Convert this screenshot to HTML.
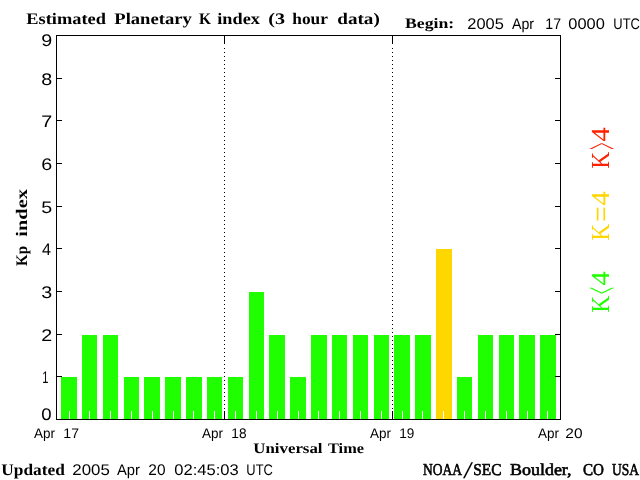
<!DOCTYPE html>
<html><head><meta charset="utf-8"><title>Estimated Planetary K index</title>
<style>
html,body{margin:0;padding:0;background:#fff;overflow:hidden}
svg{display:block}
text{text-rendering:geometricPrecision}
.s{font-family:"Liberation Sans",sans-serif;fill:#000}
.b{font-family:"Liberation Serif",serif;font-weight:bold;fill:#000}
.m{font-family:"Liberation Serif",serif;fill:#000;stroke:#000;stroke-width:0.6px}
.l{font-family:"Liberation Serif",serif}
</style></head><body>
<svg width="640" height="480" viewBox="0 0 640 480">
<rect width="640" height="480" fill="#fff"/>
<g shape-rendering="crispEdges">
<rect x="61" y="377" width="16" height="42" fill="#20ff00"/>
<rect x="69" y="411" width="1" height="8" fill="#fff"/>
<rect x="82" y="335" width="15" height="84" fill="#20ff00"/>
<rect x="89" y="411" width="1" height="8" fill="#fff"/>
<rect x="103" y="335" width="15" height="84" fill="#20ff00"/>
<rect x="110" y="411" width="1" height="8" fill="#fff"/>
<rect x="124" y="377" width="15" height="42" fill="#20ff00"/>
<rect x="131" y="411" width="1" height="8" fill="#fff"/>
<rect x="144" y="377" width="16" height="42" fill="#20ff00"/>
<rect x="152" y="411" width="1" height="8" fill="#fff"/>
<rect x="165" y="377" width="16" height="42" fill="#20ff00"/>
<rect x="173" y="411" width="1" height="8" fill="#fff"/>
<rect x="186" y="377" width="16" height="42" fill="#20ff00"/>
<rect x="193" y="411" width="1" height="8" fill="#fff"/>
<rect x="207" y="377" width="15" height="42" fill="#20ff00"/>
<rect x="214" y="411" width="1" height="8" fill="#fff"/>
<rect x="228" y="377" width="15" height="42" fill="#20ff00"/>
<rect x="235" y="411" width="1" height="8" fill="#fff"/>
<rect x="249" y="292" width="15" height="127" fill="#20ff00"/>
<rect x="256" y="411" width="1" height="8" fill="#fff"/>
<rect x="269" y="335" width="16" height="84" fill="#20ff00"/>
<rect x="277" y="411" width="1" height="8" fill="#fff"/>
<rect x="290" y="377" width="16" height="42" fill="#20ff00"/>
<rect x="298" y="411" width="1" height="8" fill="#fff"/>
<rect x="311" y="335" width="16" height="84" fill="#20ff00"/>
<rect x="318" y="411" width="1" height="8" fill="#fff"/>
<rect x="332" y="335" width="15" height="84" fill="#20ff00"/>
<rect x="339" y="411" width="1" height="8" fill="#fff"/>
<rect x="353" y="335" width="15" height="84" fill="#20ff00"/>
<rect x="360" y="411" width="1" height="8" fill="#fff"/>
<rect x="374" y="335" width="15" height="84" fill="#20ff00"/>
<rect x="381" y="411" width="1" height="8" fill="#fff"/>
<rect x="394" y="335" width="16" height="84" fill="#20ff00"/>
<rect x="402" y="411" width="1" height="8" fill="#fff"/>
<rect x="415" y="335" width="16" height="84" fill="#20ff00"/>
<rect x="422" y="411" width="1" height="8" fill="#fff"/>
<rect x="436" y="249" width="16" height="170" fill="#ffd700"/>
<rect x="443" y="411" width="1" height="8" fill="#fff"/>
<rect x="457" y="377" width="15" height="42" fill="#20ff00"/>
<rect x="464" y="411" width="1" height="8" fill="#fff"/>
<rect x="478" y="335" width="15" height="84" fill="#20ff00"/>
<rect x="485" y="411" width="1" height="8" fill="#fff"/>
<rect x="499" y="335" width="15" height="84" fill="#20ff00"/>
<rect x="506" y="411" width="1" height="8" fill="#fff"/>
<rect x="519" y="335" width="16" height="84" fill="#20ff00"/>
<rect x="527" y="411" width="1" height="8" fill="#fff"/>
<rect x="540" y="335" width="16" height="84" fill="#20ff00"/>
<rect x="547" y="411" width="1" height="8" fill="#fff"/>
<rect x="56" y="35" width="505" height="1" fill="#000"/>
<rect x="56" y="419" width="505" height="1" fill="#000"/>
<rect x="56" y="35" width="1" height="385" fill="#000"/>
<rect x="560" y="35" width="1" height="385" fill="#000"/>
<rect x="57" y="376" width="5" height="1" fill="#000"/>
<rect x="555" y="376" width="5" height="1" fill="#000"/>
<rect x="57" y="334" width="5" height="1" fill="#000"/>
<rect x="555" y="334" width="5" height="1" fill="#000"/>
<rect x="57" y="291" width="5" height="1" fill="#000"/>
<rect x="555" y="291" width="5" height="1" fill="#000"/>
<rect x="57" y="248" width="5" height="1" fill="#000"/>
<rect x="555" y="248" width="5" height="1" fill="#000"/>
<rect x="57" y="206" width="5" height="1" fill="#000"/>
<rect x="555" y="206" width="5" height="1" fill="#000"/>
<rect x="57" y="163" width="5" height="1" fill="#000"/>
<rect x="555" y="163" width="5" height="1" fill="#000"/>
<rect x="57" y="120" width="5" height="1" fill="#000"/>
<rect x="555" y="120" width="5" height="1" fill="#000"/>
<rect x="57" y="78" width="5" height="1" fill="#000"/>
<rect x="555" y="78" width="5" height="1" fill="#000"/>
<rect x="224" y="36" width="1" height="8" fill="#000"/>
<rect x="224" y="411" width="1" height="8" fill="#000"/>
<line x1="224.5" y1="48" x2="224.5" y2="409" stroke="#000" stroke-width="1" stroke-dasharray="1 3"/>
<rect x="392" y="36" width="1" height="8" fill="#000"/>
<rect x="392" y="411" width="1" height="8" fill="#000"/>
<line x1="392.5" y1="48" x2="392.5" y2="409" stroke="#000" stroke-width="1" stroke-dasharray="1 3"/>
</g>
<text class="b" x="26.3" y="24" font-size="16.1" textLength="79.6" lengthAdjust="spacingAndGlyphs">Estimated</text>
<text class="b" x="114.3" y="24" font-size="16.1" textLength="77.45" lengthAdjust="spacingAndGlyphs">Planetary</text>
<text class="b" x="199" y="24" font-size="16.1" textLength="12" lengthAdjust="spacingAndGlyphs">K</text>
<text class="b" x="217.3" y="24" font-size="16.1" textLength="42.6" lengthAdjust="spacingAndGlyphs">index</text>
<text class="b" x="268.3" y="24" font-size="16.1" textLength="16.71" lengthAdjust="spacingAndGlyphs">(3</text>
<text class="b" x="292.3" y="24" font-size="16.1" textLength="35.6" lengthAdjust="spacingAndGlyphs">hour</text>
<text class="b" x="337.3" y="24" font-size="16.1" textLength="42.5" lengthAdjust="spacingAndGlyphs">data)</text>
<text class="b" x="405" y="28" font-size="14.5" textLength="49.2" lengthAdjust="spacingAndGlyphs">Begin:</text>
<text class="s" x="467.3" y="29" font-size="15.4" textLength="36.52" lengthAdjust="spacingAndGlyphs">2005</text>
<text class="s" x="512" y="29" font-size="15.4" textLength="22" lengthAdjust="spacingAndGlyphs">Apr</text>
<text class="s" x="545.3" y="29" font-size="15.4" textLength="15.73" lengthAdjust="spacingAndGlyphs">17</text>
<text class="s" x="568.3" y="29" font-size="15.4" textLength="36.52" lengthAdjust="spacingAndGlyphs">0000</text>
<text class="s" x="613.3" y="29" font-size="15.4" textLength="26.57" lengthAdjust="spacingAndGlyphs">UTC</text>
<text class="s" x="34" y="438" font-size="14" textLength="21" lengthAdjust="spacingAndGlyphs">Apr</text>
<text class="s" x="63.3" y="438" font-size="14" textLength="15.73" lengthAdjust="spacingAndGlyphs">17</text>
<text class="s" x="202" y="438" font-size="14" textLength="21" lengthAdjust="spacingAndGlyphs">Apr</text>
<text class="s" x="231.3" y="438" font-size="14" textLength="15.2" lengthAdjust="spacingAndGlyphs">18</text>
<text class="s" x="370" y="438" font-size="14" textLength="21" lengthAdjust="spacingAndGlyphs">Apr</text>
<text class="s" x="399.3" y="438" font-size="14" textLength="15.13" lengthAdjust="spacingAndGlyphs">19</text>
<text class="s" x="538" y="438" font-size="14" textLength="21" lengthAdjust="spacingAndGlyphs">Apr</text>
<text class="s" x="565.3" y="438" font-size="14" textLength="17.2" lengthAdjust="spacingAndGlyphs">20</text>
<text class="b" x="253.3" y="453" font-size="14.6" textLength="69.2" lengthAdjust="spacingAndGlyphs">Universal</text>
<text class="b" x="328" y="453" font-size="14.6" textLength="36" lengthAdjust="spacingAndGlyphs">Time</text>
<text class="b" x="1.3" y="475" font-size="16.1" textLength="63.6" lengthAdjust="spacingAndGlyphs">Updated</text>
<text class="s" x="72.3" y="475" font-size="15.4" textLength="37.52" lengthAdjust="spacingAndGlyphs">2005</text>
<text class="s" x="117" y="475" font-size="15.4" textLength="23" lengthAdjust="spacingAndGlyphs">Apr</text>
<text class="s" x="148.3" y="475" font-size="15.4" textLength="17.2" lengthAdjust="spacingAndGlyphs">20</text>
<text class="s" x="174.3" y="475" font-size="15.4" textLength="64.47" lengthAdjust="spacingAndGlyphs">02:45:03</text>
<text class="s" x="246.3" y="475" font-size="15.4" textLength="26.57" lengthAdjust="spacingAndGlyphs">UTC</text>
<text class="m" x="423" y="475" font-size="16.6" textLength="39" lengthAdjust="spacingAndGlyphs">NOAA</text>
<text class="m" x="473.3" y="475" font-size="16.6" textLength="28.2" lengthAdjust="spacingAndGlyphs">SEC</text>
<text class="m" x="510" y="475" font-size="16.6" textLength="61.6" lengthAdjust="spacingAndGlyphs">Boulder,</text>
<text class="m" x="583" y="475" font-size="16.6" textLength="21" lengthAdjust="spacingAndGlyphs">CO</text>
<text class="m" x="612" y="475" font-size="16.6" textLength="27" lengthAdjust="spacingAndGlyphs">USA</text>
<text class="l" x="463" y="477.6" font-size="24" textLength="10" lengthAdjust="spacingAndGlyphs">/</text>
<text class="s" x="41.3" y="420" font-size="16.8" textLength="10.37" lengthAdjust="spacingAndGlyphs">0</text>
<text class="s" x="42.3" y="383" font-size="16.8" textLength="6.2" lengthAdjust="spacingAndGlyphs">1</text>
<text class="s" x="41.3" y="341" font-size="16.8" textLength="10.97" lengthAdjust="spacingAndGlyphs">2</text>
<text class="s" x="41.3" y="298" font-size="16.8" textLength="10.97" lengthAdjust="spacingAndGlyphs">3</text>
<text class="s" x="42" y="255" font-size="16.8" textLength="9" lengthAdjust="spacingAndGlyphs">4</text>
<text class="s" x="41.3" y="213" font-size="16.8" textLength="10.97" lengthAdjust="spacingAndGlyphs">5</text>
<text class="s" x="41.3" y="170" font-size="16.8" textLength="10.97" lengthAdjust="spacingAndGlyphs">6</text>
<text class="s" x="41.3" y="127" font-size="16.8" textLength="10.97" lengthAdjust="spacingAndGlyphs">7</text>
<text class="s" x="41.3" y="85" font-size="16.8" textLength="10.97" lengthAdjust="spacingAndGlyphs">8</text>
<text class="s" x="41.3" y="46" font-size="16.8" textLength="10.97" lengthAdjust="spacingAndGlyphs">9</text>
<g transform="translate(27,266) rotate(-90)">
<text class="b" x="0" y="0" font-size="16.1" textLength="20" lengthAdjust="spacingAndGlyphs">Kp</text>
<text class="b" x="29.3" y="0" font-size="16.1" textLength="47.6" lengthAdjust="spacingAndGlyphs">index</text>
</g>
<g transform="translate(609,168) rotate(-90)" fill="#ff2000">
<text class="l" x="-0.7" y="0" font-size="26" textLength="17" lengthAdjust="spacingAndGlyphs">K</text>
<text class="l" transform="translate(18.5,10.2) scale(0.47,2.0)" font-size="26">&gt;</text>
<text class="l" x="26.4" y="0" font-size="26" textLength="14.1" lengthAdjust="spacingAndGlyphs">4</text>
</g>
<g transform="translate(609,240) rotate(-90)" fill="#ffd700">
<text class="l" x="-0.7" y="0" font-size="26" textLength="17" lengthAdjust="spacingAndGlyphs">K</text>
<text class="l" transform="translate(18.1,3.3) scale(1.064,1.28)" font-size="26">=</text>
<text class="l" x="34.4" y="0" font-size="26" textLength="14.1" lengthAdjust="spacingAndGlyphs">4</text>
</g>
<g transform="translate(609,312) rotate(-90)" fill="#20ff00">
<text class="l" x="-0.7" y="0" font-size="26" textLength="17" lengthAdjust="spacingAndGlyphs">K</text>
<text class="l" transform="translate(18.1,10.2) scale(0.47,2.0)" font-size="26">&lt;</text>
<text class="l" x="26.4" y="0" font-size="26" textLength="14.1" lengthAdjust="spacingAndGlyphs">4</text>
</g>
</svg></body></html>
